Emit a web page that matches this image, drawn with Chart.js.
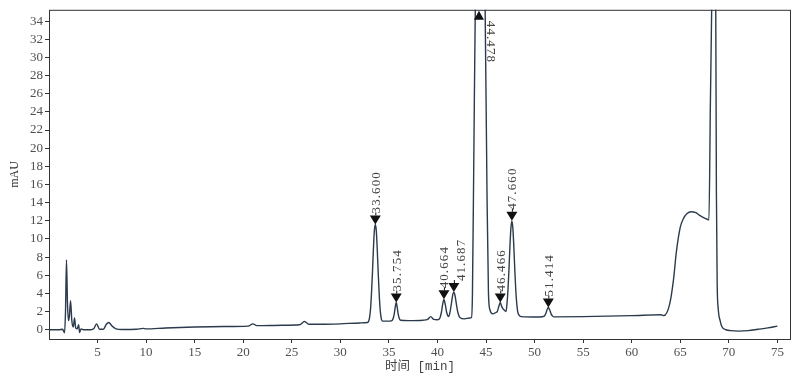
<!DOCTYPE html>
<html><head><meta charset="utf-8">
<script src="https://cdn.jsdelivr.net/npm/chart.js@4.4.1/dist/chart.umd.min.js"></script>
<style>html,body{margin:0;padding:0;background:#fff}#wrap{width:800px;height:376px}</style>
</head><body><div id="wrap"><canvas id="c" width="800" height="376"></canvas></div>
<script>
// Retention time (min)
const traceTime = [
  0, 1.0, 1.4, 1.6, 1.7, 1.8, 1.9, 2.0, 2.1, 2.22, 2.35, 2.5, 2.63, 2.75, 2.9, 3.05, 3.15, 3.3, 3.6,
  4.3, 4.6, 4.9, 5.2, 5.6, 5.9, 6.15, 6.5, 6.9, 7.5, 9.0, 9.7, 10.0, 12, 15, 18, 20.5, 21.0, 21.4,
  24, 25.8, 26.3, 26.8, 28, 30, 32, 32.8,
  32.9, 33.0, 33.1, 33.2, 33.3, 33.4, 33.5, 33.6, 33.7, 33.8, 33.9, 34.0, 34.1, 34.2, 34.35,
  35.1, 35.35, 35.45, 35.55, 35.65, 35.754, 35.85, 35.95, 36.05, 36.2,
  37, 38.5, 39.0, 39.3, 39.6, 40.0,
  40.25, 40.4, 40.55, 40.664, 40.8, 40.95, 41.15, 41.3, 41.45, 41.58, 41.687, 41.8, 41.95, 42.1, 42.3,
  42.8, 43.3, 43.5, 43.6, 43.75, 43.9, 44.478, 44.9, 45.1, 45.25, 45.4, 45.7,
  46.0, 46.15, 46.3, 46.466, 46.6, 46.75, 46.95,
  47.06, 47.16, 47.26, 47.36, 47.46, 47.56, 47.66, 47.76, 47.86, 47.96, 48.06, 48.16, 48.26, 48.4, 48.6,
  50.5, 51.0, 51.15, 51.3, 51.414, 51.55, 51.7, 51.85, 52.0, 55, 60, 63.0, 63.3,
  63.9, 64.3, 64.6, 65.0, 65.3, 65.7, 66.1, 66.6, 67.0, 67.5, 67.95,
  68.1, 68.24, 68.45, 68.65, 68.72, 68.8, 68.9, 69.1, 69.3, 69.7, 70.2, 71, 72, 73, 74, 75
];
// Detector signal (mAU)
const traceSignal = [
  0.0, 0.0, 0.05, -0.35, 2.0, 7.7, 3.0, 1.0, 1.5, 3.2, 1.0, 0.3, 1.3, 0.2, 0.1, 0.55, -0.3, 0.1, 0.0,
  0.0, 0.1, 0.65, 0.05, 0.05, 0.6, 0.8, 0.4, 0.1, 0.02, 0.05, 0.15, 0.1, 0.2, 0.3, 0.35, 0.4, 0.65, 0.45,
  0.5, 0.55, 0.9, 0.6, 0.6, 0.65, 0.75, 0.8,
  0.9, 1.3, 2.2, 3.9, 6.2, 8.8, 10.9, 11.6, 10.9, 8.8, 6.2, 3.9, 2.2, 1.3, 0.95,
  0.95, 1.05, 1.3, 1.75, 2.5, 3.0, 2.5, 1.75, 1.3, 1.05,
  1.0, 1.05, 1.15, 1.45, 1.15, 1.1,
  1.3, 1.9, 2.9, 3.35, 2.8, 1.9, 1.45, 2.0, 3.0, 3.9, 4.15, 3.8, 2.8, 1.9, 1.35,
  1.2, 1.3, 1.35, 4.0, 20, 36, 60, 36, 15, 4.0, 2.2, 1.75,
  1.9, 2.0, 2.5, 3.0, 2.6, 2.3, 2.1,
  2.0, 2.9, 4.4, 6.6, 9.2, 11.2, 12.0, 11.2, 9.2, 6.6, 4.4, 2.9, 2.0, 1.6, 1.45,
  1.4, 1.5, 1.8, 2.25, 2.45, 2.2, 1.75, 1.5, 1.42, 1.45, 1.55, 1.65, 1.55,
  2.8, 5.5, 8.6, 11.3, 12.2, 12.8, 13.0, 12.9, 12.6, 12.3, 12.1,
  25, 36, 60, 36, 15, 5.0, 2.4, 1.0, 0.3, 0.0, -0.1, -0.15, -0.1, 0.05, 0.2, 0.4
];
// Integrated peaks
const peakTimes = [33.600, 35.754, 40.664, 41.687, 44.478, 46.466, 47.660, 51.414];
const peakHeights = [11.6, 3.0, 3.35, 4.15, 60, 3.0, 12.0, 2.45];
const peakLabels = ['33.600', '35.754', '40.664', '41.687', '44.478', '46.466', '47.660', '51.414'];
// Axis ticks
const xTickValues = [5, 10, 15, 20, 25, 30, 35, 40, 45, 50, 55, 60, 65, 70, 75];
const yTickValues = [0, 2, 4, 6, 8, 10, 12, 14, 16, 18, 20, 22, 24, 26, 28, 30, 32, 34];

const serif = '"Liberation Serif", "Noto Sans CJK SC", serif';
const mono = '"Liberation Mono", "Noto Sans CJK SC", monospace';
const tickFont = { family: serif, size: 13 };
const textColor = '#505050';
const axisColor = '#333';

const framePlugin = {
  id: 'frame',
  afterDraw(chart) {
    const { ctx, chartArea: a } = chart;
    ctx.save();
    ctx.strokeStyle = axisColor;
    ctx.lineWidth = 1;
    ctx.strokeRect(a.left + 0.5, a.top + 0.5, a.right - a.left - 1, a.bottom - a.top);
    ctx.restore();
  }
};

const peakPlugin = {
  id: 'peaks',
  afterDatasetsDraw(chart) {
    const { ctx, chartArea: a, scales: { x, y } } = chart;
    const shifts = { '41.687': 7 };
    ctx.save();
    ctx.fillStyle = '#111';
    ctx.strokeStyle = '#111';
    ctx.lineWidth = 1;
    ctx.font = '13px ' + serif;
    try { ctx.letterSpacing = '1.1px'; } catch (e) {}
    peakTimes.forEach((t, i) => {
      const px = x.getPixelForValue(t);
      const label = peakLabels[i];
      if (peakHeights[i] > y.max) {
        const top = a.top + 1;
        ctx.beginPath();
        ctx.moveTo(px - 2, top);
        ctx.lineTo(px - 7, top + 9);
        ctx.lineTo(px + 3, top + 9);
        ctx.closePath();
        ctx.fill();
        ctx.save();
        ctx.translate(px + 9, top + 10);
        ctx.rotate(Math.PI / 2);
        ctx.fillStyle = '#444';
        ctx.textAlign = 'left';
        ctx.textBaseline = 'middle';
        ctx.fillText(label, 0, 0);
        ctx.restore();
      } else {
        const py = y.getPixelForValue(peakHeights[i]);
        ctx.beginPath();
        ctx.moveTo(px, py);
        ctx.lineTo(px - 5.5, py - 9);
        ctx.lineTo(px + 5.5, py - 9);
        ctx.closePath();
        ctx.fill();
        ctx.beginPath();
        ctx.moveTo(px + 0.5, py - 9);
        ctx.lineTo(px + 0.5, py - 12);
        ctx.stroke();
        ctx.save();
        ctx.translate(px + (shifts[label] || 0) + 1, py - 11);
        ctx.rotate(-Math.PI / 2);
        ctx.fillStyle = '#444';
        ctx.textAlign = 'left';
        ctx.textBaseline = 'middle';
        ctx.fillText(label, 0, 0);
        ctx.restore();
      }
    });
    ctx.restore();
  }
};

new Chart(document.getElementById('c'), {
  type: 'line',
  data: {
    datasets: [{
      data: traceTime.map((t, i) => ({ x: t, y: traceSignal[i] })),
      borderColor: '#2b3a4c',
      borderWidth: 1.4,
      pointRadius: 0,
      fill: false,
      cubicInterpolationMode: 'monotone'
    }]
  },
  options: {
    responsive: false,
    animation: false,
    devicePixelRatio: 1,
    layout: { padding: { left: 0, right: 9, top: 4, bottom: 0 } },
    plugins: { legend: { display: false }, tooltip: { enabled: false } },
    scales: {
      x: {
        type: 'linear', min: 0, max: 76.4,
        afterBuildTicks: s => { s.ticks = xTickValues.map(v => ({ value: v })); },
        afterFit: s => { s.height = 37; },
        ticks: { autoSkip: false, maxRotation: 0, font: tickFont, color: textColor, padding: 2 },
        grid: { drawOnChartArea: false, tickLength: 4, color: axisColor },
        border: { display: false },
        title: { display: true, text: '时间 [min]', font: { family: mono, size: 12.5 }, color: '#444', padding: { top: 0, bottom: 2 } }
      },
      y: {
        min: -1.02, max: 35.25,
        afterBuildTicks: s => { s.ticks = yTickValues.map(v => ({ value: v })); },
        afterFit: s => { s.width = 49; },
        ticks: { autoSkip: false, font: tickFont, color: textColor, padding: 2 },
        grid: { drawOnChartArea: false, tickLength: 4, color: axisColor },
        border: { display: false },
        title: { display: true, text: 'mAU', font: { family: serif, size: 12 }, color: '#333', padding: { top: 8, bottom: 0 } }
      }
    }
  },
  plugins: [framePlugin, peakPlugin]
});
</script>
</body></html>
